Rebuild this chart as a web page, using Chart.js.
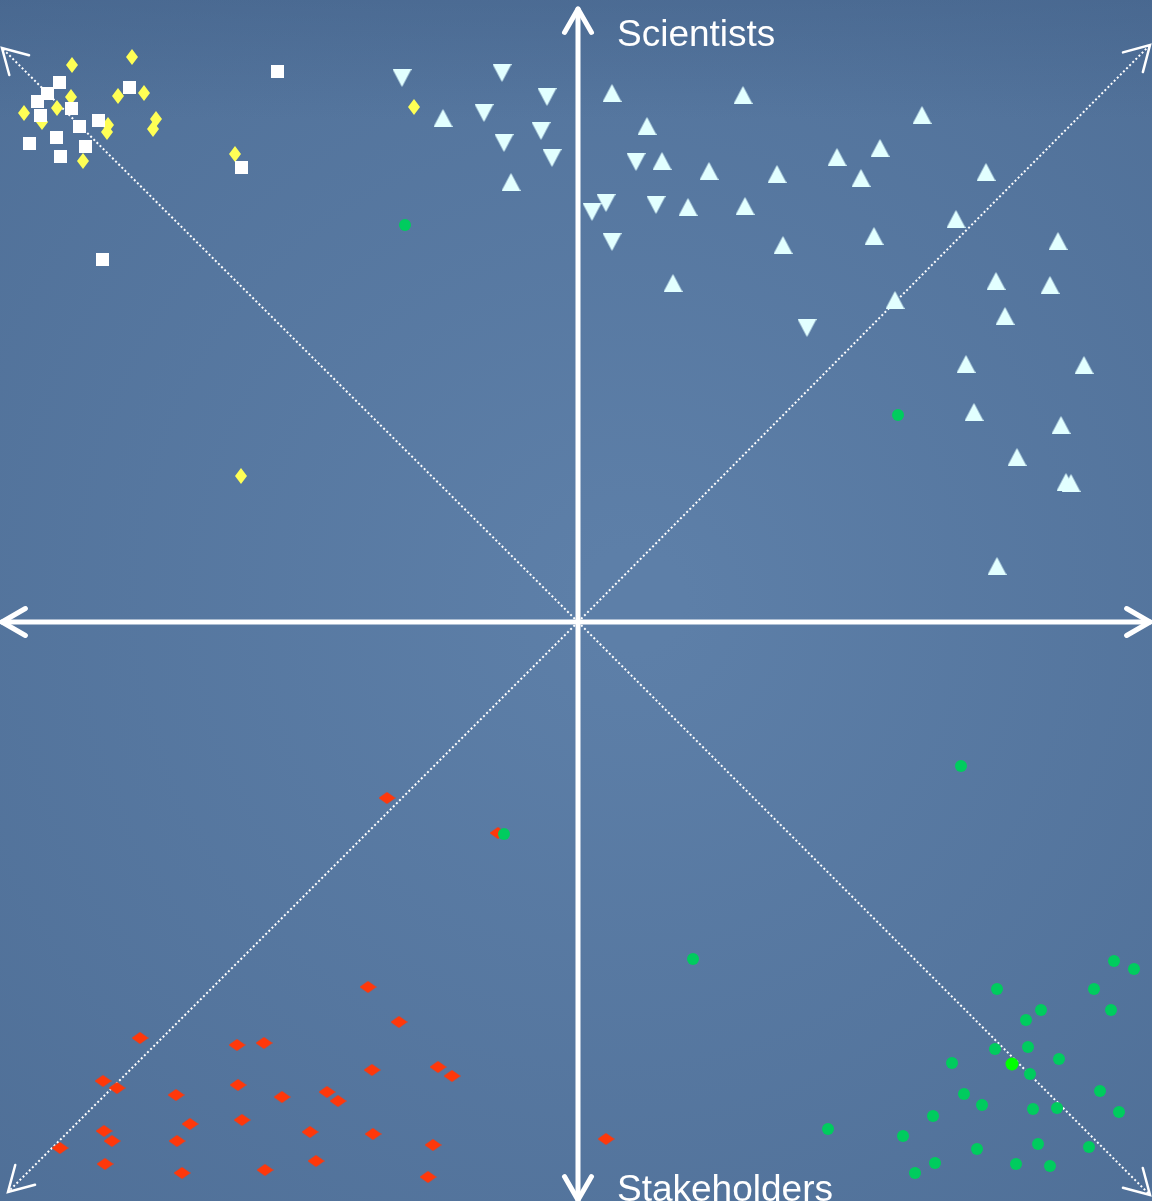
<!DOCTYPE html>
<html>
<head>
<meta charset="utf-8">
<title>Scientists / Stakeholders</title>
<script src="https://cdn.jsdelivr.net/npm/chart.js@4.4.1/dist/chart.umd.min.js"></script>
<style>
  html, body { margin: 0; padding: 0; background: #557599; overflow: hidden; }
  #wrap { width: 1152px; height: 1201px; }
</style>
</head>
<body>
<div id="wrap"><canvas id="chart" width="1152" height="1201"></canvas></div>
<script>
// values are in "slide units": origin where the two axes cross, 1 unit = 10 px
const xRange = [-57.8, 57.4];
const yRange = [-57.9, 62.2];

const topLabel = "Scientists";
const bottomLabel = "Stakeholders";

const whiteSquares = [
  [-51.9, 54.0], [-53.1, 52.9], [-54.1, 52.1], [-50.7, 51.4], [-53.8, 50.7],
  [-44.9, 53.5], [-49.9, 49.6], [-48.0, 50.2], [-54.9, 47.9], [-52.2, 48.5],
  [-49.3, 47.6], [-51.8, 46.6], [-30.1, 55.1], [-33.7, 45.5], [-47.6, 36.3]
];

const yellowDiamonds = [
  [-50.6, 55.7], [-44.6, 56.5], [-50.7, 52.5], [-52.1, 51.4], [-55.4, 50.9],
  [-53.6, 50.0], [-46.0, 52.6], [-43.4, 52.9], [-47.0, 49.7], [-47.1, 49.0],
  [-42.2, 50.3], [-42.5, 49.3], [-49.5, 46.1], [-34.3, 46.8], [-16.4, 51.5],
  [-33.7, 14.6]
];

const downTriangles = [
  [-17.6, 54.4], [-7.6, 54.9], [-3.1, 52.5], [-9.4, 50.9], [-3.7, 49.1],
  [-7.4, 47.9], [-2.6, 46.4], [5.8, 46.0], [2.8, 41.9], [1.4, 41.0],
  [7.8, 41.7], [3.4, 38.0], [22.9, 29.4]
];

const upTriangles = [
  [3.4, 52.9], [-13.5, 50.4], [6.9, 49.6], [8.4, 46.1], [-6.7, 44.0],
  [9.5, 33.9], [16.5, 52.7], [34.4, 50.7], [30.2, 47.4], [25.9, 46.5],
  [13.1, 45.1], [19.9, 44.8], [28.3, 44.4], [40.8, 45.0], [11.0, 41.5],
  [16.7, 41.6], [37.8, 40.3], [20.5, 37.7], [29.6, 38.6], [48.0, 38.1],
  [41.8, 34.1], [47.2, 33.7], [31.7, 32.2], [42.7, 30.6], [38.8, 25.8],
  [50.6, 25.7], [39.6, 21.0], [48.3, 19.7], [43.9, 16.5], [48.8, 14.0],
  [49.3, 13.9], [41.9, 5.6]
];

const redDiamonds = [
  [-19.1, -17.6], [-8.0, -21.1], [2.8, -51.7], [-21.0, -36.5], [-17.9, -40.0],
  [-43.8, -41.6], [-34.1, -42.3], [-31.4, -42.1], [-20.6, -44.8], [-14.0, -44.5],
  [-12.6, -45.4], [-47.5, -45.9], [-46.1, -46.6], [-34.0, -46.3], [-40.2, -47.3],
  [-29.6, -47.5], [-25.1, -47.0], [-24.0, -47.9], [-38.8, -50.2], [-33.6, -49.8],
  [-47.4, -50.9], [-46.6, -51.9], [-40.1, -51.9], [-26.8, -51.0], [-20.5, -51.2],
  [-51.8, -52.6], [-14.5, -52.3], [-47.3, -54.2], [-26.2, -53.9], [-39.6, -55.1],
  [-31.3, -54.8], [-15.0, -55.5]
];

const greenDots = [
  [-17.3, 39.7], [32.0, 20.7], [38.3, -14.4], [-7.4, -21.2], [11.5, -33.7],
  [53.6, -33.9], [55.6, -34.7], [41.9, -36.7], [51.6, -36.7], [46.3, -38.8],
  [53.3, -38.8], [44.8, -39.8], [41.7, -42.7], [45.0, -42.5], [48.1, -43.7],
  [37.4, -44.1], [45.2, -45.2], [52.2, -46.9], [38.6, -47.2], [40.4, -48.3],
  [45.5, -48.7], [47.9, -48.6], [54.1, -49.0], [35.5, -49.4], [25.0, -50.7],
  [32.5, -51.4], [39.9, -52.7], [46.0, -52.2], [51.1, -52.5], [35.7, -54.1],
  [43.8, -54.2], [47.2, -54.4], [33.7, -55.1]
];

const limeDots = [[43.4, -44.2]];

// ends of the axes and of the dotted diagonals
const axisEnds = { top: 61.3, bottom: -57.8, left: -57.6, right: 57.2 };
const diagonalEnds = [[-57.6, 57.4], [57.2, 57.7], [-57.0, -57.0], [57.2, -57.3]];

function toPoints(arr) {
  return arr.map(p => ({ x: p[0], y: p[1] }));
}

// small canvases used as point styles (shapes in the slide are a bit stretched)
function marker(shape, color, w, h) {
  const c = document.createElement('canvas');
  c.width = w;
  c.height = h;
  const g = c.getContext('2d');
  g.fillStyle = color;
  g.beginPath();
  if (shape === 'square') {
    g.rect(0, 0, w, h);
  } else if (shape === 'diamond') {
    g.moveTo(w / 2, 0);
    g.lineTo(w, h / 2);
    g.lineTo(w / 2, h);
    g.lineTo(0, h / 2);
  } else if (shape === 'up') {
    g.moveTo(w / 2, 0);
    g.lineTo(w, h);
    g.lineTo(0, h);
  } else if (shape === 'down') {
    g.moveTo(0, 0);
    g.lineTo(w, 0);
    g.lineTo(w / 2, h);
  }
  g.closePath();
  g.fill();
  return c;
}

function arrowHead(ctx, tx, ty, fx, fy, len, deg) {
  const a = Math.atan2(fy - ty, fx - tx);
  const d = deg * Math.PI / 180;
  ctx.beginPath();
  ctx.moveTo(tx + Math.cos(a + d) * len, ty + Math.sin(a + d) * len);
  ctx.lineTo(tx, ty);
  ctx.lineTo(tx + Math.cos(a - d) * len, ty + Math.sin(a - d) * len);
  ctx.stroke();
}

const slidePlugin = {
  id: 'slide',
  beforeDraw(chart) {
    const ctx = chart.ctx;
    const w = chart.width, h = chart.height;
    ctx.save();
    const g = ctx.createRadialGradient(w * 0.55, h * 0.5, 50, w * 0.5, h * 0.5, w * 0.8);
    g.addColorStop(0, '#5d7fa8');
    g.addColorStop(1, '#4e6e96');
    ctx.fillStyle = g;
    ctx.fillRect(0, 0, w, h);
    const top = ctx.createLinearGradient(0, 0, 0, 120);
    top.addColorStop(0, 'rgba(60,90,130,0.35)');
    top.addColorStop(1, 'rgba(60,90,130,0)');
    ctx.fillStyle = top;
    ctx.fillRect(0, 0, w, 120);
    ctx.restore();
  },
  beforeDatasetsDraw(chart) {
    const ctx = chart.ctx;
    const xs = chart.scales.x, ys = chart.scales.y;
    const px = v => xs.getPixelForValue(v);
    const py = v => ys.getPixelForValue(v);
    const cx = px(0), cy = py(0);
    ctx.save();
    ctx.strokeStyle = '#ffffff';

    // dotted diagonals
    ctx.lineWidth = 2;
    ctx.setLineDash([2, 2.4]);
    diagonalEnds.forEach(e => {
      ctx.beginPath();
      ctx.moveTo(cx, cy);
      ctx.lineTo(px(e[0]), py(e[1]));
      ctx.stroke();
    });
    ctx.setLineDash([]);
    ctx.lineWidth = 2.5;
    ctx.lineCap = 'round';
    diagonalEnds.forEach(e => {
      arrowHead(ctx, px(e[0]), py(e[1]), cx, cy, 28, 30);
    });

    // main axes
    ctx.lineWidth = 5;
    ctx.lineCap = 'round';
    ctx.lineJoin = 'round';
    ctx.beginPath();
    ctx.moveTo(cx, py(axisEnds.top));
    ctx.lineTo(cx, py(axisEnds.bottom));
    ctx.moveTo(px(axisEnds.left), cy);
    ctx.lineTo(px(axisEnds.right), cy);
    ctx.stroke();
    arrowHead(ctx, cx, py(axisEnds.top), cx, cy, 27, 30);
    arrowHead(ctx, cx, py(axisEnds.bottom), cx, cy, 27, 30);
    arrowHead(ctx, px(axisEnds.left), cy, cx, cy, 27, 30);
    arrowHead(ctx, px(axisEnds.right), cy, cx, cy, 27, 30);

    // labels
    ctx.fillStyle = '#ffffff';
    ctx.font = '37px "Liberation Sans", Arial, sans-serif';
    ctx.textAlign = 'left';
    ctx.textBaseline = 'alphabetic';
    ctx.fillText(topLabel, cx + 39, 46);
    ctx.fillText(bottomLabel, cx + 39, 1201);
    ctx.restore();
  }
};

const squareStyle = marker('square', '#ffffff', 13, 13);
const yellowStyle = marker('diamond', '#ffff55', 12, 16);
const upStyle = marker('up', '#e2ffff', 19, 18);
const downStyle = marker('down', '#e2ffff', 19, 18);
const redStyle = marker('diamond', '#ff380a', 17, 12);

function set(label, arr, style, radius, color) {
  return {
    label: label,
    data: toPoints(arr),
    pointStyle: style,
    pointRadius: radius,
    backgroundColor: color,
    borderColor: color,
    borderWidth: 0,
    clip: false
  };
}

new Chart(document.getElementById('chart'), {
  type: 'scatter',
  data: {
    datasets: [
      set('lime', limeDots, 'circle', 6.5, '#00ff00'),
      set('green', greenDots, 'circle', 6, '#00cc5e'),
      set('red', redDiamonds, redStyle, 8, '#ff380a'),
      set('squares', whiteSquares, squareStyle, 7, '#ffffff'),
      set('yellow', yellowDiamonds, yellowStyle, 8, '#ffff55'),
      set('up', upTriangles, upStyle, 9, '#e2ffff'),
      set('down', downTriangles, downStyle, 9, '#e2ffff')
    ]
  },
  options: {
    responsive: false,
    animation: false,
    layout: { padding: 0, autoPadding: false },
    plugins: {
      legend: { display: false },
      tooltip: { enabled: false }
    },
    scales: {
      x: { type: 'linear', min: xRange[0], max: xRange[1], display: false },
      y: { type: 'linear', min: yRange[0], max: yRange[1], display: false }
    }
  },
  plugins: [slidePlugin]
});
</script>
</body>
</html>
